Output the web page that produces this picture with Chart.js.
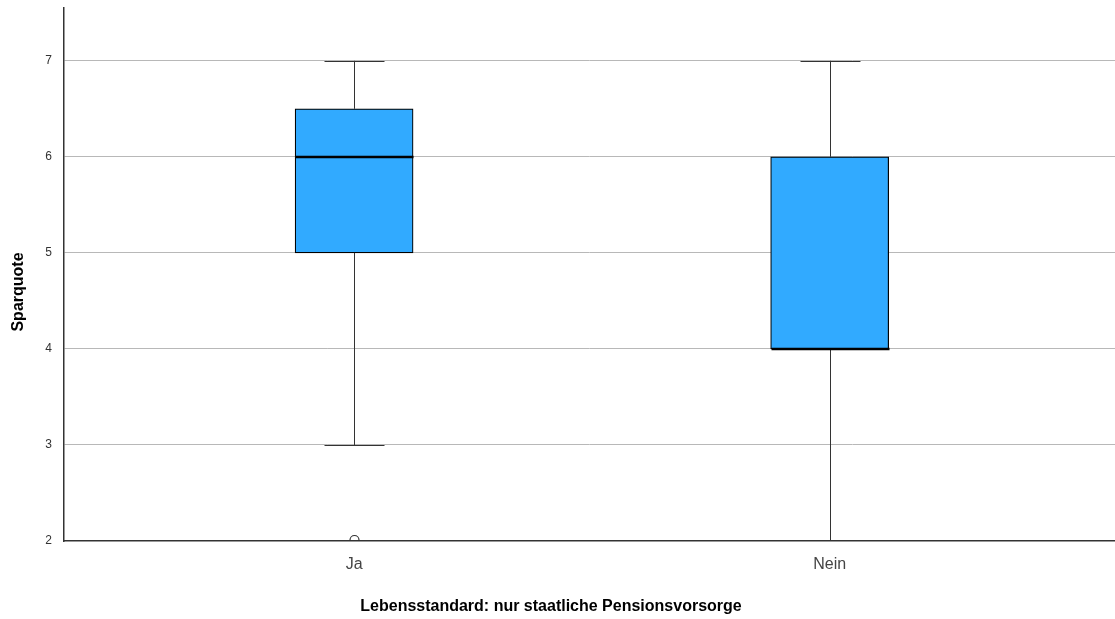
<!DOCTYPE html>
<html>
<head>
<meta charset="utf-8">
<script src="https://cdn.jsdelivr.net/npm/chart.js@4.4.1/dist/chart.umd.min.js"></script>
<style>
  html, body { margin: 0; padding: 0; background: #fff; }
  #wrap { width: 1115px; height: 619px; position: relative; }
</style>
</head>
<body>
<div id="wrap"><canvas id="box" width="1115" height="619"></canvas></div>
<script>
// Boxplot data
const categories = ['Ja', 'Nein'];
const whiskerLow = [3, 2];
const q1 = [5, 4];
const median = [6, 4];
const q3 = [6.5, 6];
const whiskerHigh = [7, 7];
const outliers = [[2], []];
const yTicks = [2, 3, 4, 5, 6, 7];

const BOX_FILL = '#31aaff';
const xTitle = 'Lebensstandard: nur staatliche Pensionsvorsorge';
const yTitle = 'Sparquote';

// whiskers, medians, outliers and axis titles
const boxExtras = {
  id: 'boxExtras',
  afterDatasetsDraw(chart) {
    const { ctx, chartArea, scales: { x, y } } = chart;
    ctx.save();
    categories.forEach((c, i) => {
      const cx = Math.round(x.getPixelForValue(i)) + 0.5;
      const capHalf = 30;
      const boxHalf = 59;
      // whisker lines
      ctx.strokeStyle = '#333';
      ctx.lineWidth = 1;
      ctx.beginPath();
      ctx.moveTo(cx, y.getPixelForValue(q3[i]));
      ctx.lineTo(cx, y.getPixelForValue(whiskerHigh[i]));
      ctx.moveTo(cx, y.getPixelForValue(q1[i]));
      ctx.lineTo(cx, y.getPixelForValue(whiskerLow[i]));
      ctx.stroke();
      // caps
      [whiskerHigh[i], whiskerLow[i]].forEach(v => {
        if (v <= y.min) return;
        const py = Math.round(y.getPixelForValue(v)) + 0.5;
        ctx.beginPath();
        ctx.moveTo(cx - capHalf, py);
        ctx.lineTo(cx + capHalf, py);
        ctx.stroke();
      });
      // median
      ctx.strokeStyle = '#000';
      ctx.lineWidth = 2.5;
      const my = Math.round(y.getPixelForValue(median[i]));
      ctx.beginPath();
      ctx.moveTo(cx - boxHalf, my);
      ctx.lineTo(cx + boxHalf, my);
      ctx.stroke();
      // outliers (clipped at the plot area)
      ctx.save();
      ctx.beginPath();
      ctx.rect(chartArea.left, chartArea.top, chartArea.right - chartArea.left, chartArea.bottom - chartArea.top);
      ctx.clip();
      ctx.strokeStyle = '#333';
      ctx.lineWidth = 1.2;
      outliers[i].forEach(v => {
        ctx.beginPath();
        ctx.arc(cx, y.getPixelForValue(v) - 1, 4.5, 0, Math.PI * 2);
        ctx.stroke();
      });
      ctx.restore();
    });
    // axis titles
    ctx.fillStyle = '#000';
    ctx.font = 'bold 16px "Liberation Sans", Arial, sans-serif';
    ctx.textAlign = 'center';
    ctx.textBaseline = 'middle';
    ctx.fillText(xTitle, 551, 607);
    ctx.translate(19, 292);
    ctx.rotate(-Math.PI / 2);
    ctx.fillText(yTitle, 0, 0);
    ctx.restore();
  }
};

new Chart(document.getElementById('box'), {
  type: 'bar',
  data: {
    datasets: [{
      data: categories.map((c, i) => ({ x: i, y: [q1[i], q3[i]] })),
      backgroundColor: BOX_FILL,
      borderColor: '#000',
      borderWidth: 1.2,
      borderSkipped: false,
      barThickness: 118
    }]
  },
  options: {
    responsive: false,
    animation: false,
    events: [],
    layout: { padding: { top: 8, right: 0, left: 0, bottom: 0 } },
    plugins: { legend: { display: false }, tooltip: { enabled: false } },
    scales: {
      x: {
        type: 'linear',
        offset: false,
        min: -0.61,
        max: 1.6,
        afterFit(s) { s.height = 78; s.paddingLeft = 0; s.paddingRight = 0; },
        afterBuildTicks(s) { s.ticks = categories.map((c, i) => ({ value: i })); },
        grid: { display: false, drawTicks: false },
        border: { color: '#333', width: 1.5 },
        ticks: {
          padding: 14,
          color: '#444',
          font: { family: '"Liberation Sans", Arial, sans-serif', size: 16 },
          callback: v => categories[v]
        }
      },
      y: {
        min: 2,
        max: 7.55,
        afterFit(s) { s.width = 64; s.paddingTop = 0; s.paddingBottom = 0; },
        afterBuildTicks(s) { s.ticks = yTicks.map(v => ({ value: v })); },
        grid: {
          color: ctx => ctx.tick && ctx.tick.value === 2 ? 'rgba(0,0,0,0)' : '#b8b8b8',
          drawTicks: false
        },
        border: { color: '#333', width: 1.5 },
        ticks: {
          padding: 12,
          color: '#333',
          font: { family: '"Liberation Sans", Arial, sans-serif', size: 12 }
        }
      }
    }
  },
  plugins: [boxExtras]
});
</script>
</body>
</html>
